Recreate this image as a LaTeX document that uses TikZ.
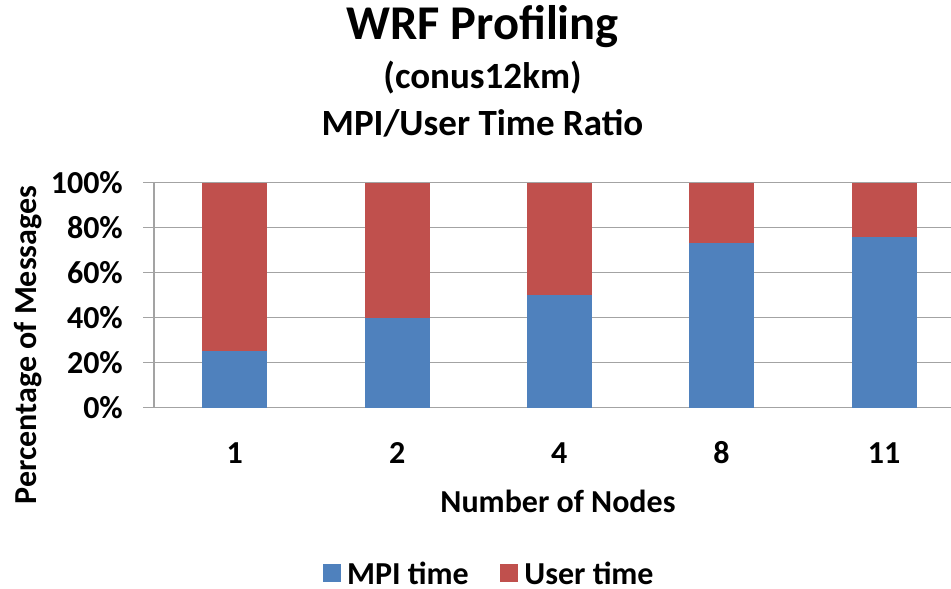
\documentclass[tikz,border=0pt]{standalone}
\usepackage{fontspec}
\setmainfont{Carlito}
\definecolor{mpiblue}{HTML}{4F81BD}
\definecolor{userred}{HTML}{C0504D}
\definecolor{gridgray}{HTML}{A3A3A3}

\begin{document}
\begin{tikzpicture}[x=1pt,y=-1pt,
  grid/.style={gridgray,line width=1.5pt},
  lbl/.style={font=\fontsize{32}{36}\selectfont\bfseries,inner sep=0pt},
  key/.style={minimum size=18pt,inner sep=0pt}]
\useasboundingbox (0,0) rectangle (951,589);
% titles
\node[font=\fontsize{48.5}{52}\selectfont\bfseries,inner sep=0pt,anchor=base] (title) at (482.5,39) {WRF Profiling};
\node[font=\fontsize{37}{40}\selectfont\bfseries,inner sep=0pt,anchor=base] (sub1) at (482.5,88) {(conus12km)};
\node[font=\fontsize{37}{40}\selectfont\bfseries,inner sep=0pt,anchor=base] (sub2) at (482.5,135) {MPI/User Time Ratio};
% gridlines and ticks, 20% apart
\foreach \p in {0,20,...,100}{
  \draw[grid] (143,{407.5-2.25*\p}) -- (951,{407.5-2.25*\p});
  \node[lbl,anchor=east] (t\p) at (123,{407.5-2.25*\p}) {\p\%};
}
\draw[grid] (154,182.5) -- (154,407.5);
% stacked bars
\foreach \x/\m/\n in {234.7/25.1/1, 397.3/39.6/2, 559.3/49.9/4, 721.5/73.1/8, 884.2/75.9/11}{
  \fill[mpiblue] (\x-32.3,407.5) rectangle (\x+32.3,{407.5-2.25*\m});
  \fill[userred] (\x-32.3,{407.5-2.25*\m}) rectangle (\x+32.3,182.5);
  \node[lbl,anchor=base] (n\n) at (\x,463) {\n};
}
% axis titles
\node[lbl,anchor=base] (xlab) at (558,512) {Number of Nodes};
\node[lbl,rotate=90] (ylab) at (28,345) {Percentage of Messages};
% legend
\node[key,fill=mpiblue] (kmpi) at (331.7,573) {};
\node[lbl,anchor=west,xshift=6pt] (lmpi) at (kmpi.east) {MPI time};
\node[key,fill=userred] (kuser) at (509,573) {};
\node[lbl,anchor=west,xshift=6pt] (luser) at (kuser.east) {User time};
\end{tikzpicture}
\end{document}
